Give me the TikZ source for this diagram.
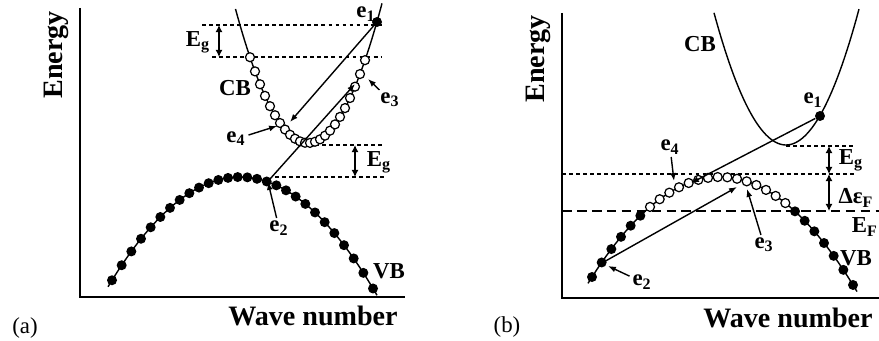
\documentclass[tikz,border=0pt]{standalone}
\usepackage{fontspec}
\setmainfont{Liberation Serif}
\usetikzlibrary{arrows.meta, positioning}

\begin{document}
\begin{tikzpicture}[
    x=0.02cm, y=-0.02cm,
    lbl/.style={font=\bfseries\fontsize{13}{13}\selectfont, inner sep=1.5pt},
    axlbl/.style={font=\bfseries\fontsize{16}{16}\selectfont, inner sep=0pt},
    tag/.style={font=\fontsize{13}{13}\selectfont, inner sep=0pt},
    axis/.style={line width=1.3pt},
    band/.style={line width=0.8pt},
    lvl/.style={line width=0.7pt, dash pattern=on 2.2pt off 1.8pt},
    fermi/.style={line width=0.9pt, dash pattern=on 5.5pt off 3pt},
    hole/.style={line width=0.7pt, fill=white},
    edot/.style={circle, fill, inner sep=0pt, minimum size=0.2cm},
    arrow/.style={-{Latex[length=4.5pt, width=3.4pt]}, line width=0.8pt},
    gap/.style={{Latex[length=4pt, width=4pt]}-{Latex[length=4pt, width=4pt]}, line width=0.8pt}
]
    \useasboundingbox (0,0) rectangle (879,341);

    % ===== (a) =====
    % 坐标轴
    \draw[axis] (80,8) -- (80,297) -- (405,297);
    \node[axlbl, rotate=90] (ena) at (56,55) {Energy};
    \node[axlbl] (wna) at (313,316) {Wave number};
    \node[tag] (taga) at (25,328) {(a)};

    % 能级虚线
    \draw[lvl] (202,25) -- (382,25);
    \draw[lvl] (212,57) -- (382,57);
    \draw[lvl] (315,145) -- (382,145);
    \draw[lvl] (275,177) -- (385,177);

    % 价带
    \draw[band] plot[domain=-132:137, samples=60] ({240+\x}, {177+0.0063*(\x)*(\x)});
    \foreach \i in {0,...,27} {
        \pgfmathsetmacro{\vx}{-128+9.667*\i}
        \fill ({240+\vx}, {177+0.0063*(\vx)*(\vx)}) circle[radius=0.1cm];
    }

    % 导带
    \draw[band] plot[domain=-72.5:74, samples=60] ({308+\x}, {143-0.0255*(\x)*(\x)});
    \foreach \i in {0,...,23} {
        \pgfmathsetmacro{\cx}{-58+5*\i}
        \draw[hole] ({308+\cx}, {143-0.0255*(\cx)*(\cx)}) circle[radius=0.09cm];
    }

    % 电子
    \node[edot] (e1a) at (377,22) {};
    \coordinate (e2a) at (270,179);
    \coordinate (e3a) at (355,84);
    \coordinate (e4a) at (290,122);

    % 能隙
    \coordinate (g1a) at (219,25);
    \coordinate (g2a) at (219,57);
    \coordinate (g3a) at (355,145);
    \coordinate (g4a) at (355,177);
    \draw[gap] (g1a) -- (g2a);
    \draw[gap] (g3a) -- (g4a);

    % 标注
    \node[lbl, inner sep=0pt] (l1a) at (366,14) {e\textsubscript{1}};
    \node[lbl] (l2a) at (279,228) {e\textsubscript{2}};
    \node[lbl] (l3a) at (390,100) {e\textsubscript{3}};
    \node[lbl] (l4a) at (236,139) {e\textsubscript{4}};
    \node[lbl] (lg1a) at (198,42) {E\textsubscript{g}};
    \node[lbl] (lg2a) at (379,162) {E\textsubscript{g}};
    \node[lbl] (lcba) at (235,88) {CB};
    \node[lbl] (lvba) at (389,271) {VB};
    \coordinate (p2a) at (268,182);
    \coordinate (p3a) at (368,79);
    \coordinate (p4a) at (277,126);

    % 箭头
    \draw[arrow] (e1a) -- (e4a);
    \draw[arrow] (e2a) -- (e3a);
    \draw[arrow] (l2a) -- (p2a);
    \draw[arrow] (l3a) -- (p3a);
    \draw[arrow] (l4a) -- (p4a);

    % ===== (b) =====
    % 坐标轴
    \draw[axis] (562,13) -- (562,298) -- (879,298);
    \node[axlbl, rotate=90] (enb) at (538,59) {Energy};
    \node[axlbl] (wnb) at (788,318) {Wave number};
    \node[tag] (tagb) at (507,327) {(b)};

    % 能级虚线
    \draw[lvl] (562,174) -- (856,174);
    \draw[lvl] (786,146) -- (856,146);
    \draw[fermi] (562,211) -- (879,211);

    % 价带
    \draw[band] plot[domain=-132:137, samples=60] ({720+\x}, {177+0.0061*(\x)*(\x)});
    \foreach \i in {0,...,27} {
        \pgfmathsetmacro{\vx}{-128+9.667*\i}
        \pgfmathtruncatemacro{\isopen}{abs(\vx)<74}
        \ifnum\isopen=1
            \draw[hole] ({720+\vx}, {177+0.0061*(\vx)*(\vx)}) circle[radius=0.09cm];
        \else
            \fill ({720+\vx}, {177+0.0061*(\vx)*(\vx)}) circle[radius=0.1cm];
        \fi
    }

    % 导带
    \draw[band] plot[domain=-72:73, samples=60] ({786+\x}, {145-0.0255*(\x)*(\x)});

    % 电子
    \node[edot] (e1b) at (820,116) {};
    \coordinate (e2b) at (602,263);
    \coordinate (e3b) at (737,187);
    \coordinate (e4b) at (691,183);

    % 能隙
    \coordinate (g1b) at (829,146);
    \coordinate (g2b) at (829,174);
    \coordinate (g3b) at (829,211);
    \draw[gap] (g1b) -- (g2b);
    \draw[gap] (g2b) -- (g3b);

    % 标注
    \node[lbl] (l1b) at (813,100) {e\textsubscript{1}};
    \node[lbl] (l2b) at (642,282) {e\textsubscript{2}};
    \node[lbl] (l3b) at (764,245) {e\textsubscript{3}};
    \node[lbl] (l4b) at (670,147) {e\textsubscript{4}};
    \node[lbl] (lgb) at (851,160) {E\textsubscript{g}};
    \node[lbl] (lfb) at (856,198) {Δε\textsubscript{F}};
    \node[lbl, anchor=east, inner sep=0pt] (lefb) at (878,227) {E\textsubscript{F}};
    \node[lbl] (lcbb) at (700,44) {CB};
    \node[lbl] (lvbb) at (856,258) {VB};
    \coordinate (p2b) at (608,266);
    \coordinate (p3b) at (747,189);
    \coordinate (p4b) at (674,181);

    % 箭头
    \draw[arrow] (e1b) -- (e4b);
    \draw[arrow] (e2b) -- (e3b);
    \draw[arrow] (l2b) -- (p2b);
    \draw[arrow] (l3b) -- (p3b);
    \draw[arrow] (l4b) -- (p4b);
\end{tikzpicture}
\end{document}
